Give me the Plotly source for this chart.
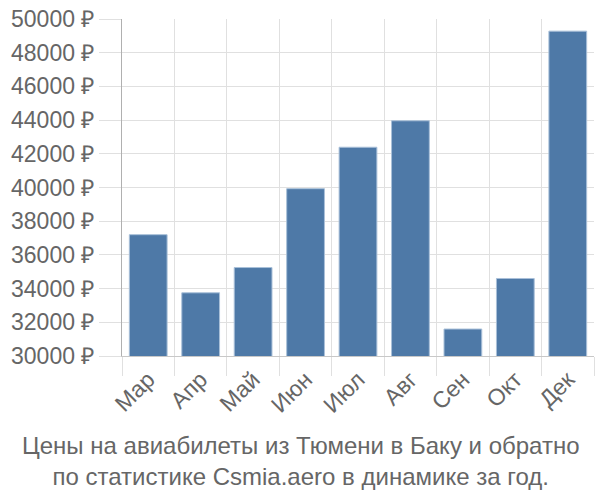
import plotly.graph_objects as go

months = ["Мар", "Апр", "Май", "Июн", "Июл", "Авг", "Сен", "Окт", "Дек"]
prices = [37200, 33750, 35250, 39930, 42390, 43960, 31600, 34600, 49280]
title_lines = ["Цены на авиабилеты из Тюмени в Баку и обратно",
               "по статистике Csmia.aero в динамике за год."]

fig = go.Figure(go.Bar(
    x=months, y=prices,
    marker=dict(color="#4e79a7", line=dict(color="#a9c0d9", width=1)),
))

font = "Liberation Sans, Arial, sans-serif"
fig.update_layout(
    width=600, height=500,
    margin=dict(l=122, r=6, t=15, b=144),
    paper_bgcolor="white", plot_bgcolor="white",
    bargap=0.28,
    showlegend=False,
    font=dict(family=font, size=22, color="#666"),
)
fig.update_xaxes(
    type="category",
    tickson="boundaries",
    ticks="outside", ticklen=19, tickcolor="#e0e0e0", tickwidth=1,
    showgrid=True, gridcolor="#e0e0e0", gridwidth=1,
    showline=True, linecolor="#c8c8c8", linewidth=1,
    tickangle=-45,
    tickfont=dict(family=font, size=23, color="#666"),
    range=[-0.5, len(months) - 0.5],
)
fig.update_yaxes(
    range=[30000, 50000], dtick=2000, tick0=30000,
    tickformat="d", ticksuffix=" ₽",
    ticks="outside", ticklen=22, tickcolor="#e0e0e0",
    showgrid=True, gridcolor="#e0e0e0", gridwidth=1,
    showline=True, linecolor="#b0b0b0", linewidth=1,
    tickfont=dict(family=font, size=23, color="#666"),
    zeroline=False,
)
fig.add_annotation(
    text="<br>".join(title_lines),
    xref="paper", yref="paper", x=(300 - 122) / 472, y=0,
    yshift=-74, xanchor="center", yanchor="top",
    showarrow=False,
    font=dict(family=font, size=24, color="#666"),
)
fig.write_html("out.html")
